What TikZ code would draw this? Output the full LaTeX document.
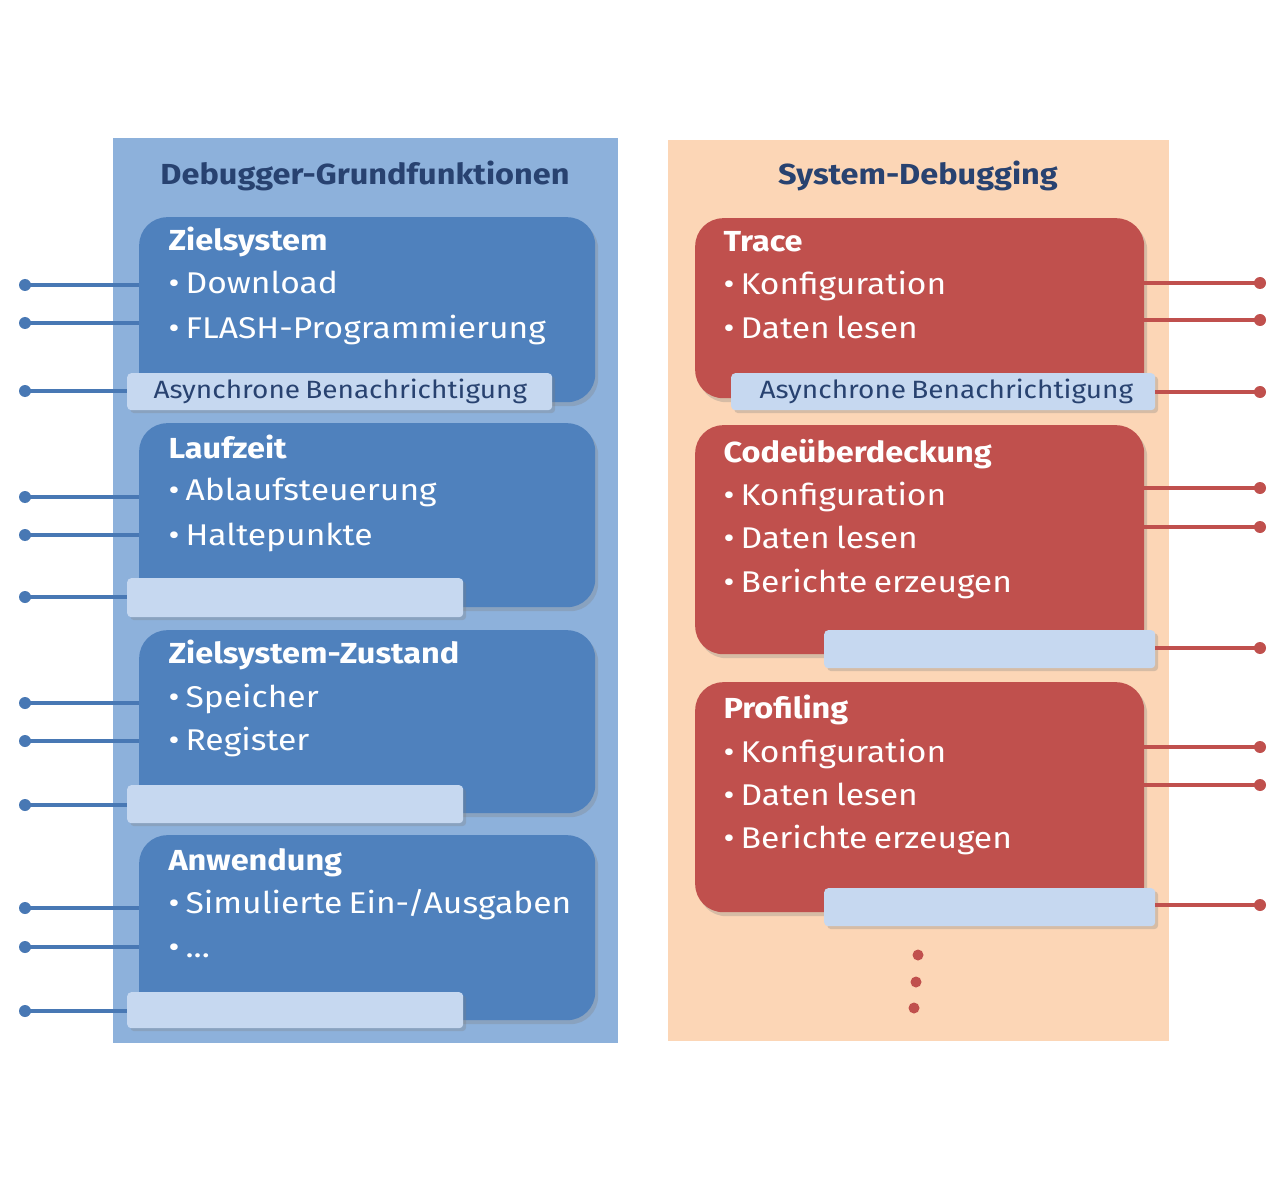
\documentclass[tikz,border=0pt]{standalone}
\usepackage{fontspec}
\setmainfont{Fira Sans}[FakeStretch=1.12,WordSpace=0.7]
\usetikzlibrary{shadows}
\definecolor{lpanelc}{RGB}{141,177,219}
\definecolor{lblockc}{RGB}{79,129,189}
\definecolor{barc}{RGB}{198,216,240}
\definecolor{navyc}{RGB}{40,66,112}
\definecolor{llinec}{RGB}{72,120,180}
\definecolor{rpanelc}{RGB}{252,214,182}
\definecolor{rblockc}{RGB}{192,80,77}
\definecolor{rlinec}{RGB}{192,80,77}
\begin{document}
\begin{tikzpicture}[x=1pt,y=-1pt,
  panel/.style={draw=none,minimum width=#1,anchor=north west,inner sep=0pt},
  blockbox/.style={rounded corners=28pt,anchor=north west,inner sep=0pt,
     drop shadow={opacity=0.3,shadow xshift=3pt,shadow yshift=-4pt}},
  barbox/.style={fill=barc,rounded corners=4pt,anchor=north west,inner sep=0pt,
     drop shadow={opacity=0.3,shadow xshift=3pt,shadow yshift=-3pt}},
  ptitle/.style={anchor=base,text=navyc,font=\fontsize{29}{34}\selectfont\bfseries},
  btitle/.style={anchor=base west,text=white,font=\fontsize{29}{34}\selectfont\bfseries},
  item/.style={anchor=base west,text=white,font=\fontsize{30}{34}\selectfont},
  bartext/.style={anchor=base west,text=navyc,font=\fontsize{25}{30}\selectfont},
  ldot/.style={circle,fill=llinec,minimum size=12pt,inner sep=0pt},
  rdot/.style={circle,fill=rlinec,minimum size=12pt,inner sep=0pt},
  edot/.style={circle,fill=rlinec,minimum size=11pt,inner sep=0pt},
  lconn/.style={draw=llinec,line width=3.5pt},
  rconn/.style={draw=rlinec,line width=3.5pt}]
\useasboundingbox[fill=white] (0,0) rectangle (1280,1190);

% panels
\node[panel=505pt,fill=lpanelc,minimum height=905pt] (lp) at (113,138) {};
\node[panel=501pt,fill=rpanelc,minimum height=901pt] (rp) at (668,140) {};
\node[ptitle] (lpt) at (365,185) {Debugger-Grundfunktionen};
\node[ptitle] (rpt) at (918,185) {System-Debugging};

% left dots
\node[ldot] (a1) at (25,285) {};
\node[ldot] (a2) at (25,323) {};
\node[ldot] (a3) at (25,391) {};
\node[ldot] (b1) at (25,497) {};
\node[ldot] (b2) at (25,535) {};
\node[ldot] (b3) at (25,597) {};
\node[ldot] (c1) at (25,703) {};
\node[ldot] (c2) at (25,741) {};
\node[ldot] (c3) at (25,805) {};
\node[ldot] (d1) at (25,908) {};
\node[ldot] (d2) at (25,947) {};
\node[ldot] (d3) at (25,1011) {};
% right dots
\node[rdot] (e1) at (1260,283) {};
\node[rdot] (e2) at (1260,320) {};
\node[rdot] (e3) at (1260,392) {};
\node[rdot] (f1) at (1260,488) {};
\node[rdot] (f2) at (1260,527) {};
\node[rdot] (f3) at (1260,648) {};
\node[rdot] (g1) at (1260,747) {};
\node[rdot] (g2) at (1260,785) {};
\node[rdot] (g3) at (1260,905) {};

% left blocks
\node[blockbox,fill=lblockc,minimum width=456pt,minimum height=185pt] (zs) at (139,217) {};
\node[blockbox,fill=lblockc,minimum width=456pt,minimum height=184pt] (lz) at (139,423) {};
\node[blockbox,fill=lblockc,minimum width=456pt,minimum height=183pt] (zz) at (139,630) {};
\node[blockbox,fill=lblockc,minimum width=456pt,minimum height=185pt] (aw) at (139,835) {};
% right blocks
\node[blockbox,fill=rblockc,minimum width=449pt,minimum height=180pt] (tr) at (695,218) {};
\node[blockbox,fill=rblockc,minimum width=449pt,minimum height=229pt] (cu) at (695,425) {};
\node[blockbox,fill=rblockc,minimum width=449pt,minimum height=230pt] (pf) at (695,682) {};

% bars
\node[barbox,minimum width=425pt,minimum height=37pt] (zsb) at (127,373) {};
\node[barbox,minimum width=336pt,minimum height=39pt] (lzb) at (127,578) {};
\node[barbox,minimum width=336pt,minimum height=38pt] (zzb) at (127,785) {};
\node[barbox,minimum width=336pt,minimum height=36pt] (awb) at (127,992) {};
\node[barbox,minimum width=424pt,minimum height=37pt] (trb) at (731,373) {};
\node[barbox,minimum width=331pt,minimum height=38pt] (cub) at (824,630) {};
\node[barbox,minimum width=331pt,minimum height=38pt] (pfb) at (824,888) {};

% connectors
\draw[lconn] (a1.center) -- (a1 -| zs.west);
\draw[lconn] (a2.center) -- (a2 -| zs.west);
\draw[lconn] (a3.center) -- (a3 -| zsb.west);
\draw[lconn] (b1.center) -- (b1 -| lz.west);
\draw[lconn] (b2.center) -- (b2 -| lz.west);
\draw[lconn] (b3.center) -- (b3 -| lzb.west);
\draw[lconn] (c1.center) -- (c1 -| zz.west);
\draw[lconn] (c2.center) -- (c2 -| zz.west);
\draw[lconn] (c3.center) -- (c3 -| zzb.west);
\draw[lconn] (d1.center) -- (d1 -| aw.west);
\draw[lconn] (d2.center) -- (d2 -| aw.west);
\draw[lconn] (d3.center) -- (d3 -| awb.west);
\draw[rconn] (e1.center) -- (e1 -| tr.east);
\draw[rconn] (e2.center) -- (e2 -| tr.east);
\draw[rconn] (e3.center) -- (e3 -| trb.east);
\draw[rconn] (f1.center) -- (f1 -| cu.east);
\draw[rconn] (f2.center) -- (f2 -| cu.east);
\draw[rconn] (f3.center) -- (f3 -| cub.east);
\draw[rconn] (g1.center) -- (g1 -| pf.east);
\draw[rconn] (g2.center) -- (g2 -| pf.east);
\draw[rconn] (g3.center) -- (g3 -| pfb.east);

% left texts
\node[btitle] (t1) at (165,251) {Zielsystem};
\node[item] (t1a) at (165,294) {• Download};
\node[item] (t1b) at (165,338) {• FLASH-Programmierung};
\node[bartext] (t1c) at (150,398) {Asynchrone Benachrichtigung};
\node[btitle] (t2) at (165,458) {Laufzeit};
\node[item] (t2a) at (165,500) {• Ablaufsteuerung};
\node[item] (t2b) at (165,545) {• Haltepunkte};
\node[btitle] (t3) at (165,663) {Zielsystem-Zustand};
\node[item] (t3a) at (165,707) {• Speicher};
\node[item] (t3b) at (165,750) {• Register};
\node[btitle] (t4) at (165,870) {Anwendung};
\node[item] (t4a) at (165,913) {• Simulierte Ein-/Ausgaben};
\node[item] (t4b) at (165,957) {• ...};
% right texts
\node[btitle] (u1) at (720,252) {Trace};
\node[item] (u1a) at (720,295) {• Konfiguration};
\node[item] (u1b) at (720,338) {• Daten lesen};
\node[bartext] (u1c) at (756,398) {Asynchrone Benachrichtigung};
\node[btitle] (u2) at (720,462) {Codeüberdeckung};
\node[item] (u2a) at (720,505) {• Konfiguration};
\node[item] (u2b) at (720,548) {• Daten lesen};
\node[item] (u2c) at (720,592) {• Berichte erzeugen};
\node[btitle] (u3) at (720,718) {Profiling};
\node[item] (u3a) at (720,762) {• Konfiguration};
\node[item] (u3b) at (720,805) {• Daten lesen};
\node[item] (u3c) at (720,848) {• Berichte erzeugen};

% ellipsis dots
\node[edot] (h1) at (918,955) {};
\node[edot] (h2) at (916,982) {};
\node[edot] (h3) at (914,1008) {};
\end{tikzpicture}
\end{document}
